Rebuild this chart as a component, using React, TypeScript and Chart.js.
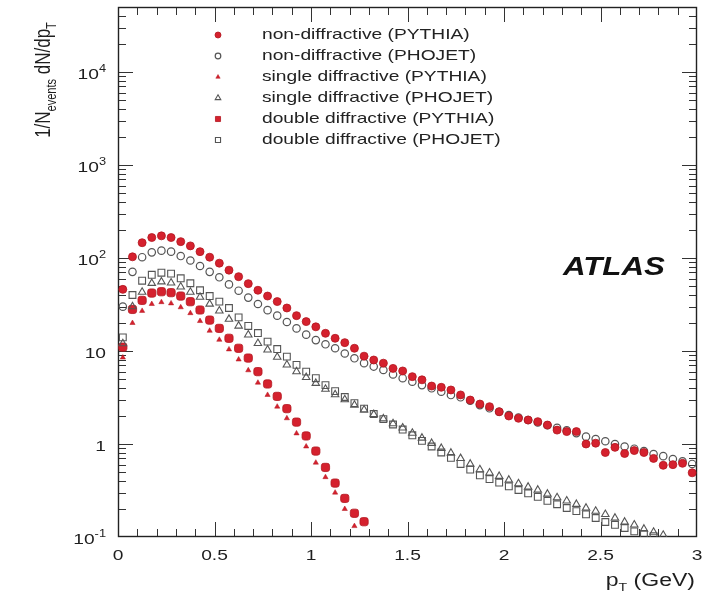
import React, { useEffect, useRef } from 'react';
import { Chart, registerables } from 'chart.js';

Chart.register(...registerables);

// ---------- DATA ----------
const ptBins = [
  0.025, 0.075, 0.125, 0.175, 0.225, 0.275, 0.325, 0.375, 0.425, 0.475,
  0.525, 0.575, 0.625, 0.675, 0.725, 0.775, 0.825, 0.875, 0.925, 0.975,
  1.025, 1.075, 1.125, 1.175, 1.225, 1.275, 1.325, 1.375, 1.425, 1.475,
  1.525, 1.575, 1.625, 1.675, 1.725, 1.775, 1.825, 1.875, 1.925, 1.975,
  2.025, 2.075, 2.125, 2.175, 2.225, 2.275, 2.325, 2.375, 2.425, 2.475,
  2.525, 2.575, 2.625, 2.675, 2.725, 2.775, 2.825, 2.875, 2.925, 2.975,
];

const ndPythia = [
  46, 103, 146, 166, 173, 166, 150, 135, 117, 102,
  88, 74, 63, 53, 45, 39, 34, 29, 24, 20.7,
  18.2, 15.5, 13.7, 12.3, 10.7, 8.8, 8.0, 7.4, 6.5, 6.1,
  5.3, 4.9, 4.2, 4.07, 3.81, 3.37, 2.97, 2.69, 2.52, 2.22,
  2.0, 1.89, 1.81, 1.74, 1.6, 1.41, 1.36, 1.36, 1.0, 1.02,
  0.81, 0.92, 0.79, 0.85, 0.81, 0.7, 0.59, 0.6, 0.62, 0.49,
];

const ndPhojet = [
  30, 71, 102, 115, 120, 117, 105, 94, 82, 71,
  62, 52, 44.5, 37.5, 32, 27.5, 24, 20.5, 17.5, 15,
  13.1, 11.8, 10.7, 9.4, 8.35, 7.4, 6.8, 6.25, 5.6, 5.1,
  4.67, 4.3, 3.97, 3.65, 3.36, 3.18, 2.92, 2.62, 2.42, 2.22,
  2.05, 1.93, 1.81, 1.7, 1.59, 1.49, 1.4, 1.31, 1.2, 1.13,
  1.07, 1.0, 0.94, 0.89, 0.84, 0.78, 0.74, 0.69, 0.65, 0.61,
];

const sdPythia = [
  8.5, 20, 27, 32, 33.5, 32.5, 29.5, 25.5, 21, 16.5,
  13.2, 10.4, 8.1, 6.2, 4.56, 3.37, 2.52, 1.89, 1.3, 0.94,
  0.63, 0.44, 0.3, 0.2, 0.131, null, null, null, null, null,
  null, null, null, null, null, null, null, null, null, null,
  null, null, null, null, null, null, null, null, null, null,
  null, null, null, null, null, null, null, null, null, null,
];

const sdPhojet = [
  12, 30, 43, 53.5, 55.6, 54, 49, 43, 38, 32,
  27, 22, 18.6, 14.9, 12.1, 10.3, 8.6, 7.1, 6.0, 5.2,
  4.5, 3.9, 3.4, 3.0, 2.62, 2.33, 2.08, 1.87, 1.66, 1.49,
  1.31, 1.16, 1.02, 0.9, 0.8, 0.7, 0.61, 0.53, 0.49, 0.45,
  0.41, 0.375, 0.345, 0.32, 0.29, 0.265, 0.245, 0.225, 0.205, 0.19,
  0.175, 0.16, 0.145, 0.135, 0.122, 0.113, 0.105, null, null, null,
];

const ddPythia = [
  11, 28, 35, 42, 43.4, 42.4, 39, 33.9, 27.6, 21.5,
  17.5, 13.7, 10.7, 8.4, 6.0, 4.42, 3.25, 2.4, 1.72, 1.22,
  0.84, 0.56, 0.38, 0.26, 0.18, 0.146, null, null, null, null,
  null, null, null, null, null, null, null, null, null, null,
  null, null, null, null, null, null, null, null, null, null,
  null, null, null, null, null, null, null, null, null, null,
];

const ddPhojet = [
  14, 40, 57, 66, 69.5, 68, 60.5, 53.5, 45, 39,
  34, 29, 23, 18.6, 15.6, 12.6, 10.5, 8.7, 7.1, 6.0,
  5.1, 4.3, 3.7, 3.2, 2.75, 2.4, 2.1, 1.85, 1.62, 1.43,
  1.24, 1.08, 0.94, 0.81, 0.71, 0.61, 0.53, 0.46, 0.42, 0.385,
  0.35, 0.32, 0.295, 0.27, 0.245, 0.225, 0.205, 0.19, 0.175, 0.16,
  0.145, 0.135, 0.125, 0.115, 0.108, 0.102, null, null, null, null,
];

const seriesLabels = [
  'non-diffractive (PYTHIA)',
  'non-diffractive (PHOJET)',
  'single diffractive (PYTHIA)',
  'single diffractive (PHOJET)',
  'double diffractive (PYTHIA)',
  'double diffractive (PHOJET)',
];

const xTickValues = [0, 0.5, 1, 1.5, 2, 2.5, 3];
const xTickLabels = ['0', '0.5', '1', '1.5', '2', '2.5', '3'];
const yTickValues = [0.1, 1, 10, 100, 1000, 10000];
const yTickBases = ['10', '1', '10', '10', '10', '10'];
const yTickExps = ['-1', '', '', '2', '3', '4'];

// ---------- STYLE ----------
const RED = '#d5212e';
const RED_DARK = '#b3161f';
const GRAY = '#555555';
const FAMILY = '"Liberation Sans", Arial, Helvetica, sans-serif';
const SX = 1.28;

const styles = [
  { pointStyle: 'circle', radius: 4.0, bg: RED, border: RED_DARK, bw: 0.8, lr: 3.0 },
  { pointStyle: 'circle', radius: 3.7, bg: 'rgba(255,255,255,0)', border: GRAY, bw: 1.2, lr: 2.8 },
  { pointStyle: 'triangle', radius: 3.0, bg: RED, border: RED_DARK, bw: 0.5, lr: 2.5 },
  { pointStyle: 'triangle', radius: 4.3, bg: 'rgba(255,255,255,0)', border: GRAY, bw: 1.1, lr: 3.2 },
  { pointStyle: 'rectRounded', radius: 4.8, bg: RED, border: RED_DARK, bw: 0.8, lr: 3.6 },
  { pointStyle: 'rect', radius: 4.8, bg: 'rgba(255,255,255,0)', border: GRAY, bw: 1.1, lr: 3.6 },
];

type Part = { t: string; size: number; dy?: number; weight?: string };

function measureRich(ctx: CanvasRenderingContext2D, parts: Part[]) {
  let w = 0;
  for (const p of parts) {
    ctx.font = `${p.weight || ''} ${p.size}px ${FAMILY}`;
    w += ctx.measureText(p.t).width;
  }
  return w;
}

function drawRich(ctx: CanvasRenderingContext2D, parts: Part[], x: number, y: number, align: string, sx: number, baseline: CanvasTextBaseline = 'alphabetic') {
  const w = measureRich(ctx, parts) * sx;
  const x0 = align === 'left' ? x : align === 'center' ? x - w / 2 : x - w;
  ctx.save();
  ctx.translate(x0, y);
  ctx.scale(sx, 1);
  ctx.textAlign = 'left';
  ctx.textBaseline = baseline;
  let cx = 0;
  for (const p of parts) {
    ctx.font = `${p.weight || ''} ${p.size}px ${FAMILY}`;
    ctx.fillText(p.t, cx, p.dy || 0);
    cx += ctx.measureText(p.t).width;
  }
  ctx.restore();
}

function drawMarker(ctx: CanvasRenderingContext2D, style: string, x: number, y: number, r: number, bg: string, border: string, bw: number) {
  ctx.save();
  ctx.fillStyle = bg;
  ctx.strokeStyle = border;
  ctx.lineWidth = bw;
  ctx.beginPath();
  if (style === 'circle') {
    ctx.arc(x, y, r, 0, Math.PI * 2);
  } else if (style === 'triangle') {
    ctx.moveTo(x, y - r);
    ctx.lineTo(x + r * 0.866, y + r * 0.5);
    ctx.lineTo(x - r * 0.866, y + r * 0.5);
    ctx.closePath();
  } else {
    const s = r * 0.707;
    ctx.rect(x - s, y - s, 2 * s, 2 * s);
  }
  ctx.fill();
  if (bw > 0) ctx.stroke();
  ctx.restore();
}

const decorPlugin = {
  id: 'atlasDecor',
  beforeDraw(chart: any) {
    const ctx = chart.ctx;
    ctx.save();
    ctx.fillStyle = '#ffffff';
    ctx.fillRect(0, 0, chart.width, chart.height);
    ctx.restore();
  },
  beforeDatasetsDraw(chart: any) {
    const ctx: CanvasRenderingContext2D = chart.ctx;
    const { left, right, top, bottom } = chart.chartArea;
    const xs = chart.scales.x;
    const ys = chart.scales.y;
    ctx.save();
    ctx.strokeStyle = '#333333';
    ctx.lineWidth = 1;
    for (let k = 1; k < 30; k++) {
      const v = k / 10;
      const px = Math.round(xs.getPixelForValue(v)) + 0.5;
      const len = k % 5 === 0 ? 15 : 8;
      ctx.beginPath();
      ctx.moveTo(px, bottom);
      ctx.lineTo(px, bottom - len);
      ctx.moveTo(px, top);
      ctx.lineTo(px, top + len);
      ctx.stroke();
    }
    for (let e = -1; e <= 4; e++) {
      for (let m = 1; m <= 9; m++) {
        const v = m * Math.pow(10, e);
        if (v > 50000 || (e === -1 && m === 1)) continue;
        const py = Math.round(ys.getPixelForValue(v)) + 0.5;
        const len = m === 1 ? 15 : 8;
        ctx.beginPath();
        ctx.moveTo(left, py);
        ctx.lineTo(left + len, py);
        ctx.moveTo(right, py);
        ctx.lineTo(right - len, py);
        ctx.stroke();
      }
    }
    ctx.strokeStyle = '#222222';
    ctx.lineWidth = 1.4;
    ctx.strokeRect(left + 0.5, top + 0.5, right - left - 1, bottom - top - 1);
    ctx.restore();
  },
  afterDraw(chart: any) {
    const ctx: CanvasRenderingContext2D = chart.ctx;
    const { left, right, bottom } = chart.chartArea;
    const xs = chart.scales.x;
    const ys = chart.scales.y;
    ctx.save();
    ctx.fillStyle = '#1e1e1e';

    xTickValues.forEach((v, i) => {
      const px = xs.getPixelForValue(v);
      drawRich(ctx, [{ t: xTickLabels[i], size: 15 }], px, bottom + 19, 'center', SX, 'middle');
    });

    yTickValues.forEach((v, i) => {
      const py = ys.getPixelForValue(v);
      const parts: Part[] = [{ t: yTickBases[i], size: 15 }];
      if (yTickExps[i]) parts.push({ t: yTickExps[i], size: 10, dy: -6 });
      drawRich(ctx, parts, left - 12, py + 3, 'right', SX, 'middle');
    });

    drawRich(
      ctx,
      [
        { t: 'p', size: 18 },
        { t: 'T', size: 11, dy: 5 },
        { t: ' (GeV)', size: 18 },
      ],
      right - 2,
      586,
      'right',
      SX,
    );

    const yParts: Part[] = [
      { t: '1/N', size: 17 },
      { t: 'events', size: 11, dy: 5 },
      { t: ' dN/dp', size: 17 },
      { t: 'T', size: 11, dy: 5 },
    ];
    const tw = measureRich(ctx, yParts);
    ctx.save();
    ctx.translate(50, 80 + tw / 2);
    ctx.rotate(-Math.PI / 2);
    ctx.scale(1, SX);
    let cx = 0;
    ctx.textAlign = 'left';
    ctx.textBaseline = 'alphabetic';
    for (const p of yParts) {
      ctx.font = `${p.size}px ${FAMILY}`;
      ctx.fillText(p.t, cx, p.dy || 0);
      cx += ctx.measureText(p.t).width;
    }
    ctx.restore();

    ctx.fillStyle = '#111111';
    drawRich(ctx, [{ t: 'ATLAS', size: 25, weight: 'bold italic' }], 563, 275, 'left', 1.25);

    const rows = [35, 56, 77, 98, 119, 140];
    seriesLabels.forEach((lab, i) => {
      const s = styles[i];
      drawMarker(ctx, s.pointStyle, 218, rows[i], s.lr, s.bg, s.border, s.bw);
      ctx.fillStyle = '#222222';
      drawRich(ctx, [{ t: lab, size: 15 }], 262, rows[i], 'left', SX, 'middle');
    });
    ctx.restore();
  },
};

const seriesData = [ndPythia, ndPhojet, sdPythia, sdPhojet, ddPythia, ddPhojet];

export default function App() {
  const ref = useRef<HTMLCanvasElement | null>(null);
  useEffect(() => {
    if (!ref.current) return;
    const datasets = seriesData.map((arr, i) => ({
      label: seriesLabels[i],
      data: ptBins
        .map((x, j) => ({ x, y: arr[j] }))
        .filter((p) => p.y !== null && p.y !== undefined),
      showLine: false,
      pointStyle: styles[i].pointStyle,
      pointRadius: styles[i].radius,
      pointBackgroundColor: styles[i].bg,
      pointBorderColor: styles[i].border,
      pointBorderWidth: styles[i].bw,
      backgroundColor: styles[i].bg,
      borderColor: styles[i].border,
    }));
    const chart = new Chart(ref.current, {
      type: 'scatter',
      data: { datasets } as any,
      options: {
        animation: false,
        responsive: false,
        devicePixelRatio: 1,
        layout: { padding: { left: 118, right: 11, top: 7, bottom: 64 } },
        scales: {
          x: { type: 'linear', min: 0, max: 3, display: false },
          y: { type: 'logarithmic', min: 0.1, max: 50000, display: false },
        },
        plugins: {
          legend: { display: false },
          tooltip: { enabled: false },
        },
      } as any,
      plugins: [decorPlugin],
    });
    return () => chart.destroy();
  }, []);
  return (
    <div style={{ position: 'absolute', left: 0, top: 0, width: 708, height: 601, background: '#fff' }}>
      <canvas ref={ref} width={708} height={601} style={{ display: 'block' }} />
    </div>
  );
}
